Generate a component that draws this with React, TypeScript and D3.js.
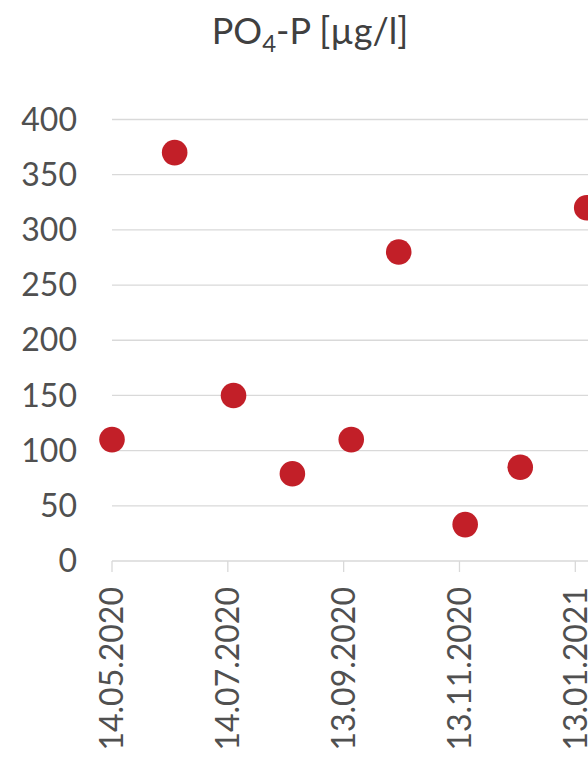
import React from "react";
import * as d3 from "d3";

const sampleDates = [
  "2020-05-14", "2020-06-16", "2020-07-17", "2020-08-17", "2020-09-17",
  "2020-10-12", "2020-11-16", "2020-12-15", "2021-01-19",
];
const po4Values = [110, 370, 150, 79, 110, 280, 33, 85, 320];
const xTickDates = ["2020-05-14", "2020-07-14", "2020-09-13", "2020-11-13", "2021-01-13"];
const xTickLabels = ["14.05.2020", "14.07.2020", "13.09.2020", "13.11.2020", "13.01.2021"];
const yTicks = [0, 50, 100, 150, 200, 250, 300, 350, 400];

const W = 588;
const H = 758;
const FONT = "Lato, 'Open Sans', sans-serif";
const TEXT = "#505050";

export default function App() {
  const parse = (s: string) => new Date(s + "T00:00:00Z");
  const x = d3.scaleUtc()
    .domain([parse("2020-05-14"), parse("2021-01-13")])
    .range([112, 575.3]);
  const y = d3.scaleLinear().domain([0, 400]).range([561, 119.5]);

  const points = sampleDates.map((d, i) => ({ d: parse(d), v: po4Values[i] }));

  return (
    <svg width={W} height={H} style={{ position: "absolute", left: 0, top: 0, background: "#fff" }}>
      <text x={310} y={44} textAnchor="middle" fontFamily={FONT} fontSize={36} fill="#404040">
        PO<tspan fontSize={24} dy={8}>4</tspan><tspan dy={-8}>-P [µg/l]</tspan>
      </text>
      {yTicks.map((t) => (
        <g key={t}>
          {t > 0 && (
            <line x1={112} x2={W} y1={y(t)} y2={y(t)} stroke="#d9d9d9" strokeWidth={1.3} />
          )}
          <text x={77} y={y(t)} dy="0.35em" textAnchor="end" fontFamily={FONT} fontSize={32} fill={TEXT}>
            {t}
          </text>
        </g>
      ))}
      <line x1={112} x2={W} y1={y(0)} y2={y(0)} stroke="#d9d9d9" strokeWidth={1.3} />
      {xTickDates.map((d, i) => {
        const px = x(parse(d));
        return (
          <g key={d}>
            <line x1={px} x2={px} y1={y(0)} y2={y(0) + 11} stroke="#d9d9d9" strokeWidth={1.3} />
            <text
              transform={`translate(${px},${y(0) + 26}) rotate(-90)`}
              textAnchor="end"
              dy="0.35em"
              fontFamily={FONT}
              fontSize={32}
              fill={TEXT}
            >
              {xTickLabels[i]}
            </text>
          </g>
        );
      })}
      {points.map((p, i) => (
        <circle key={i} cx={x(p.d)} cy={y(p.v)} r={12.8} fill="#c21f28" />
      ))}
    </svg>
  );
}
